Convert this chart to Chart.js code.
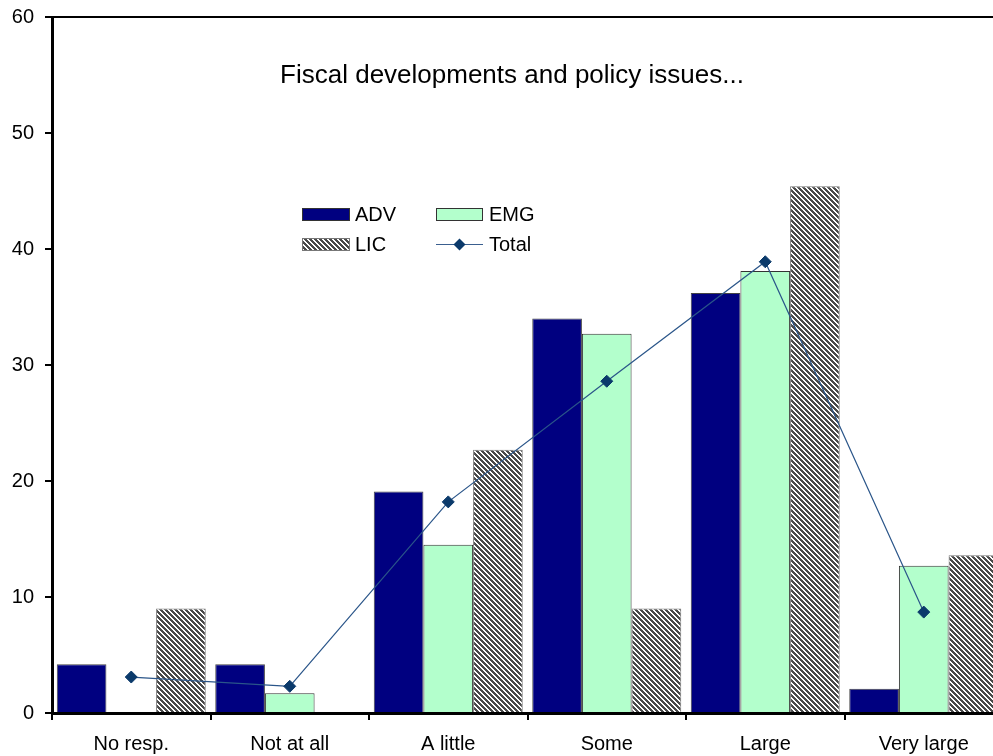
<!DOCTYPE html>
<html>
<head>
<meta charset="utf-8">
<script src="https://cdn.jsdelivr.net/npm/chart.js@4/dist/chart.umd.min.js"></script>
<style>
  html, body { margin:0; padding:0; background:#fff; overflow:hidden; }
  #wrap { width:1010px; height:756px; }
</style>
</head>
<body>
<div id="wrap"><canvas id="chart" width="1010" height="756"></canvas></div>
<script>
// data
const categories = ['No resp.', 'Not at all', 'A little', 'Some', 'Large', 'Very large'];
const adv   = [4.2, 4.2, 19.1, 34.0, 36.2, 2.1];
const emg   = [0, 1.7, 14.5, 32.7, 38.1, 12.7];
const lic   = [9.0, 0, 22.7, 9.0, 45.4, 13.6];
const total = [3.1, 2.3, 18.2, 28.6, 38.9, 8.7];
const yTicks = [0, 10, 20, 30, 40, 50, 60];

const FONT = '"Liberation Sans", Arial, sans-serif';

// diagonal hatch for LIC
function makeHatch() {
  const n = 5;
  const c = document.createElement('canvas');
  c.width = n; c.height = n;
  const g = c.getContext('2d');
  g.fillStyle = '#fff';
  g.fillRect(0, 0, n, n);
  g.fillStyle = '#4a4a4a';
  for (let y = 0; y < n; y++) {
    for (let x = 0; x < n; x++) {
      const d = ((x - y) % n + n) % n;
      if (d < 3) g.fillRect(x, y, 1, 1);
    }
  }
  return g.createPattern(c, 'repeat');
}
const hatch = makeHatch();

// title + legend sit inside the plot area
const overlay = {
  id: 'overlay',
  afterDraw(chart) {
    const ctx = chart.ctx;
    ctx.save();
    ctx.fillStyle = '#000';
    ctx.font = '26px ' + FONT;
    ctx.textAlign = 'center';
    ctx.textBaseline = 'alphabetic';
    ctx.fillText('Fiscal developments and policy issues...', 512, 83);

    ctx.font = '20px ' + FONT;
    ctx.textAlign = 'left';
    ctx.textBaseline = 'middle';

    // ADV
    ctx.fillStyle = '#000080';
    ctx.fillRect(302, 208, 48, 13);
    ctx.strokeStyle = '#333'; ctx.lineWidth = 1;
    ctx.strokeRect(302.5, 208.5, 47, 12);
    ctx.fillStyle = '#000';
    ctx.fillText('ADV', 355, 215);

    // EMG
    ctx.fillStyle = '#b3ffcc';
    ctx.fillRect(436, 208, 47, 13);
    ctx.strokeRect(436.5, 208.5, 46, 12);
    ctx.fillStyle = '#000';
    ctx.fillText('EMG', 489, 215);

    // LIC
    ctx.fillStyle = hatch;
    ctx.fillRect(302, 238, 48, 13);
    ctx.strokeStyle = '#777';
    ctx.strokeRect(302.5, 238.5, 47, 12);
    ctx.fillStyle = '#000';
    ctx.fillText('LIC', 355, 245);

    // Total
    ctx.strokeStyle = '#3a5f8f'; ctx.lineWidth = 1.2;
    ctx.beginPath(); ctx.moveTo(436, 244.5); ctx.lineTo(483, 244.5); ctx.stroke();
    ctx.fillStyle = '#0b3a6b';
    ctx.beginPath();
    ctx.moveTo(459.5, 238.5); ctx.lineTo(465.5, 244.5); ctx.lineTo(459.5, 250.5); ctx.lineTo(453.5, 244.5);
    ctx.closePath(); ctx.fill();
    ctx.fillStyle = '#000';
    ctx.fillText('Total', 489, 245);
    ctx.restore();
  }
};

Chart.defaults.font.family = FONT;
Chart.defaults.font.size = 20;
Chart.defaults.color = '#000';

new Chart(document.getElementById('chart'), {
  type: 'bar',
  data: {
    labels: categories,
    datasets: [
      {type:'line', label:'Total', data: total, borderColor:'#2a5589', borderWidth:1.2,
       pointStyle:'rectRot', pointRadius:6, pointBackgroundColor:'#0b3a6b', pointBorderColor:'#0b3a6b',
       pointBorderWidth:1, tension:0, order:0},
      {label:'ADV', data: adv, backgroundColor:'#000080', borderColor:'#444', borderWidth:1, order:1},
      {label:'EMG', data: emg, backgroundColor:'#b3ffcc', borderColor:'#333', borderWidth:1, order:1},
      {label:'LIC', data: lic, backgroundColor: hatch, borderColor:'#777', borderWidth:1, order:1}
    ]
  },
  options: {
    responsive:false,
    animation:false,
    layout:{padding:{top:17, right:7, left:0, bottom:0}},
    datasets:{bar:{categoryPercentage:0.94, barPercentage:1.0, borderSkipped:'start'}},
    scales:{
      x:{
        offset:true,
        grid:{offset:true, drawOnChartArea:false, drawTicks:true, tickLength:7, tickColor:'#000', lineWidth:2},
        border:{display:true, color:'#000', width:3},
        ticks:{padding:12, color:'#000', font:{size:20}},
        afterFit(s){ s.height = 43; s.paddingLeft = 0; s.paddingRight = 0; }
      },
      y:{
        min:0, max:60,
        afterBuildTicks(s){ s.ticks = yTicks.map(v => ({value:v})); },
        grid:{drawOnChartArea:true, drawTicks:true, tickLength:7, tickColor:'#000', lineWidth:2,
              color: c => (c.tick && c.tick.value === 60) ? '#000' : 'rgba(0,0,0,0)'},
        border:{display:true, color:'#000', width:3},
        ticks:{padding:11, color:'#000', font:{size:20}},
        afterFit(s){ s.width = 52; s.paddingTop = 0; s.paddingBottom = 0; }
      }
    },
    plugins:{legend:{display:false}, title:{display:false}, tooltip:{enabled:false}}
  },
  plugins:[overlay]
});
</script>
</body>
</html>
